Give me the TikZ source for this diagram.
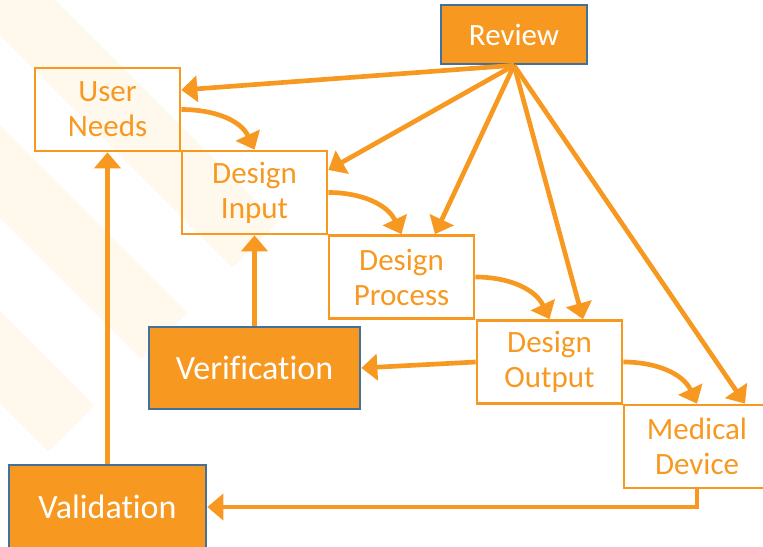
\documentclass[tikz,border=0pt]{standalone}
\usepackage{fontspec}
\setmainfont{Carlito}[Ligatures=NoCommon]
\usetikzlibrary{arrows.meta,calc}
\definecolor{orng}{RGB}{247,153,33}
\definecolor{bord}{RGB}{65,113,156}
\definecolor{cream}{RGB}{255,248,236}
\begin{document}
\begin{tikzpicture}[x=0.75pt,y=0.75pt,
  wbox/.style={draw=orng,line width=2pt,minimum width=108.75pt,minimum height=62.25pt,
    inner sep=0pt,text=orng,align=center,font=\fontsize{23.25}{26.25}\selectfont},
  obox/.style={draw=bord,fill=orng,line width=2pt,inner sep=0pt,text=white},
  bigtext/.style={font=\fontsize{25.5}{30}\selectfont},
  smalltext/.style={font=\fontsize{23.25}{26.25}\selectfont},
  arr/.style={draw=orng,line width=3.5pt,line join=miter,-{Triangle[length=12pt,width=19.5pt]}},
  stripe/.style={fill=cream,draw=none}
]
\path[use as bounding box] (0,0) rectangle (763,-546);
\clip (0,0) rectangle (763,-546);
% background stripes
\path[stripe] (0,0) -- (55,0) -- (277.5,-222.5) -- (232.5,-267.5) -- (0,-35) -- cycle;
\path[stripe] (0,-125) -- (187.5,-312.5) -- (141,-359) -- (0,-218) -- cycle;
\path[stripe] (0,-311) -- (94.5,-405.5) -- (48.5,-451.5) -- (0,-403) -- cycle;
% nodes
\node[obox,smalltext,minimum width=109.5pt,minimum height=44.25pt] (rev) at (514,-34.5) {Review};
\node[wbox] (un) at (107.5,-109.5) {User\\Needs};
\node[wbox] (di) at (254.5,-192.5) {Design\\Input};
\node[wbox] (dp) at (401.5,-277) {Design\\Process};
\node[wbox] (do) at (549.5,-362) {Design\\Output};
\node[wbox,minimum width=109.5pt] (md) at (697,-446.5) {Medical\\Device};
\node[obox,bigtext,minimum width=158.25pt,minimum height=61.5pt] (ver) at (254.5,-368) {Verification};
\node[obox,bigtext,minimum width=147.75pt,minimum height=63pt] (val) at (107.5,-507) {Validation};
% review arrows
\draw[arr] (rev.south) -- (un.east |- 0,-90);
\draw[arr] (rev.south) -- (di.east |- 0,-170);
\draw[arr] (rev.south) -- (dp.north -| 435,0);
\draw[arr] (rev.south) -- (do.north -| 583,0);
\draw[arr] (rev.south) -- (md.north -| 745,0);
% chain curves
\draw[arr] (un.east) to[out=0,in=115] (di.north);
\draw[arr] (di.east) to[out=0,in=115] (dp.north);
\draw[arr] (dp.east) to[out=0,in=115] (do.north);
\draw[arr] (do.east) to[out=0,in=115] (md.north);
% feedback
\draw[arr] (do.west) -- (ver.east);
\draw[arr] (ver.north) -- (di.south);
\draw[arr] (val.north) -- (un.south);
\draw[arr] (md.south) |- (val.east);
\end{tikzpicture}
\end{document}
